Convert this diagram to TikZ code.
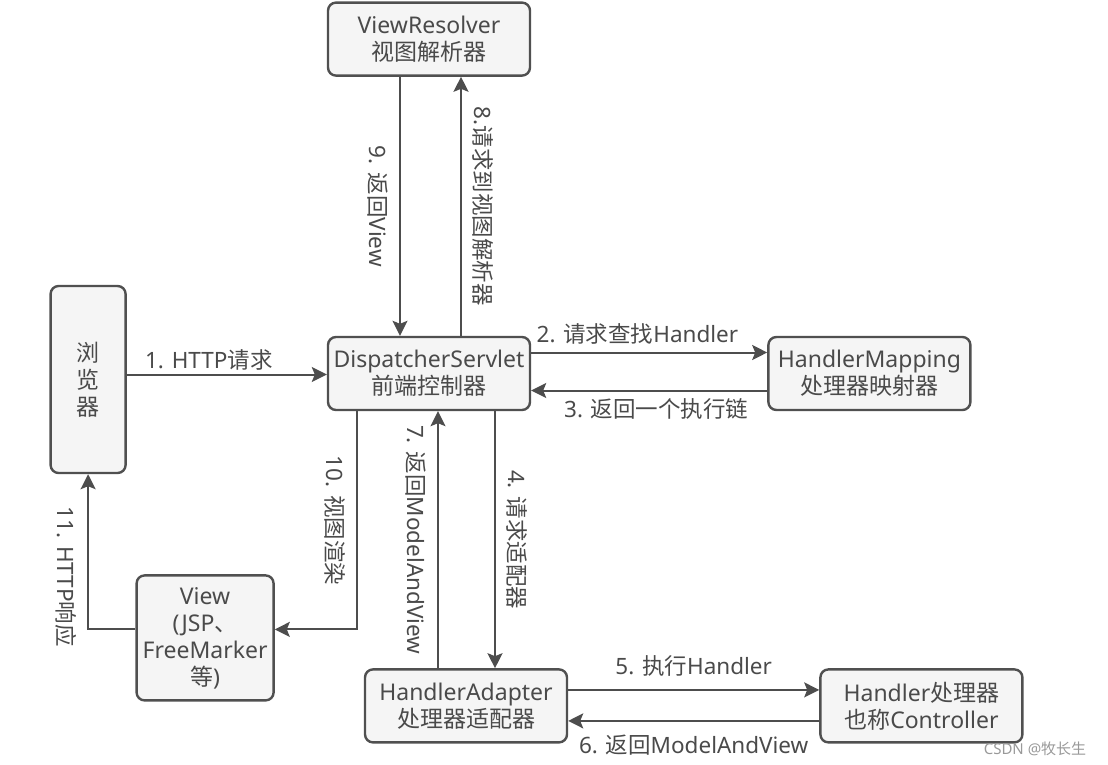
\documentclass[tikz,border=0pt]{standalone}
\usepackage{fontspec}
\setmainfont{Noto Sans}
\newfontfamily\cjk{Noto Sans CJK SC}
\usetikzlibrary{positioning,arrows.meta}

\definecolor{boxfill}{HTML}{F5F5F5}
\definecolor{boxline}{HTML}{505050}
\definecolor{txtgray}{HTML}{4A4A4A}
\definecolor{arrgray}{HTML}{4D4D4D}

\tikzset{
  box/.style={draw=boxline, line width=2.4pt, fill=boxfill, rounded corners=8pt,
    minimum width=202pt, minimum height=73pt, inner sep=0pt, align=center,
    text=txtgray, font=\fontsize{23pt}{27pt}\selectfont},
  arr/.style={draw=arrgray, line width=2pt,
    -{Stealth[length=15pt,width=15pt,inset=3pt]}},
  lbl/.style={text=txtgray, font=\fontsize{22.5pt}{24pt}\selectfont, inner sep=3pt},
  vlbl/.style={lbl, rotate=-90, inner ysep=11pt}
}

\begin{document}
\begin{tikzpicture}[x=1pt,y=-1pt]
\useasboundingbox (0,0) rectangle (1108,765);

\node[box](ds) at (429,373.5){DispatcherServlet\\{\cjk 前端控制器}};
\node[box, above=259pt of ds](vr){ViewResolver\\{\cjk 视图解析器}};
\node[box, right=236pt of ds](hm){HandlerMapping\\{\cjk 处理器映射器}};
\node[box, minimum width=75pt, minimum height=187pt, left=200pt of ds, yshift=-6pt](br){\cjk 浏\\\cjk 览\\\cjk 器};
\node[box, minimum width=137pt, minimum height=125pt, below=100pt of br, xshift=117pt](vw){View\\(JSP{\cjk 、}\\FreeMarker\\{\cjk 等})};
\node[box, below=257pt of ds, xshift=37pt](ha){HandlerAdapter\\{\cjk 处理器适配器}};
\node[box, right=251pt of ha](hd){Handler{\cjk 处理器}\\{\cjk 也称}Controller};

% ViewResolver
\draw[arr] ([xshift=-29pt]vr.south) -- ([xshift=-29pt]vr.south |- ds.north)
  node[midway, vlbl, anchor=north]{9. {\cjk 返回}View};
\draw[arr] ([xshift=32pt]ds.north) -- ([xshift=32pt]ds.north |- vr.south)
  node[midway, vlbl, anchor=south]{8.{\cjk 请求到视图解析器}};

% browser
\draw[arr] ([yshift=-1pt]br.east |- ds.west) -- ([yshift=-1pt]ds.west)
  node[pos=0.41, lbl, above]{1. HTTP{\cjk 请求}};

% HandlerMapping
\draw[arr] ([yshift=21pt]ds.east) -- ([yshift=21pt]hm.west)
  node[pos=0.45, lbl, above, yshift=4pt]{2. {\cjk 请求查找}Handler};
\draw[arr] ([yshift=-17pt]hm.west) -- ([yshift=-17pt]ds.east)
  node[pos=0.47, lbl, below, yshift=-4pt]{3. {\cjk 返回一个执行链}};

% HandlerAdapter
\draw[arr] ([xshift=29pt]ha.north |- ds.south) -- ([xshift=29pt]ha.north)
  node[midway, vlbl, anchor=south]{4. {\cjk 请求适配器}};
\draw[arr] ([xshift=-28pt]ha.north) -- ([xshift=-28pt]ha.north |- ds.south)
  node[midway, vlbl, anchor=north]{7. {\cjk 返回}ModelAndView};

% Handler
\draw[arr] ([yshift=16pt]ha.east) -- ([yshift=16pt]hd.west)
  node[midway, lbl, above, yshift=10pt]{5. {\cjk 执行}Handler};
\draw[arr] ([yshift=-15pt]hd.west) -- ([yshift=-15pt]ha.east)
  node[midway, lbl, below, yshift=-10pt]{6. {\cjk 返回}ModelAndView};

% View
\draw[arr] ([xshift=-72pt]ds.south) |- ([yshift=8.5pt]vw.east)
  node[pos=0.25, vlbl, anchor=north]{10. {\cjk 视图渲染}};
\draw[arr] ([yshift=8.5pt]vw.west) -| (br.south)
  node[pos=0.67, vlbl, anchor=north]{11. HTTP{\cjk 响应}};

\node[text=gray!80, font=\fontsize{15pt}{16pt}\selectfont](wm) at (1035,749){CSDN @{\cjk 牧长生}};
\end{tikzpicture}
\end{document}
